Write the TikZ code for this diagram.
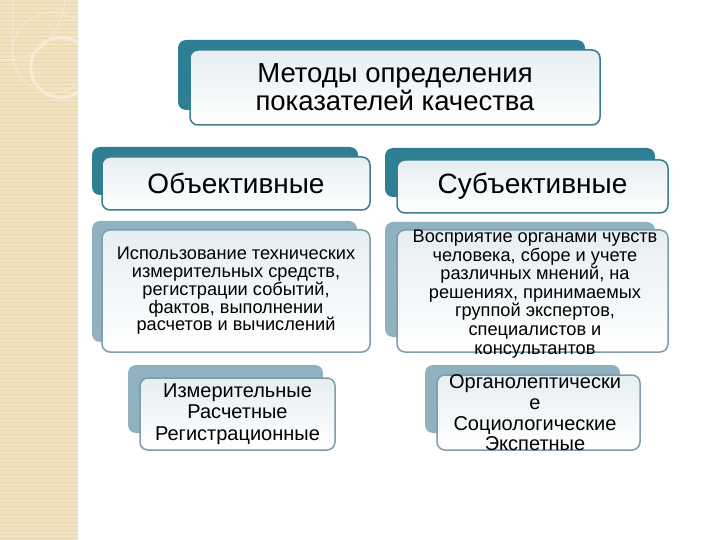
\documentclass[tikz,border=0pt]{standalone}
\usepackage{fontspec}
\setmainfont{Liberation Sans}
\usetikzlibrary{backgrounds}
\definecolor{darkteal}{HTML}{2E7E94}
\definecolor{lightback}{HTML}{8FB1C0}
\definecolor{tealedge}{HTML}{3B7C8E}
\definecolor{grayedge}{HTML}{7F9CA9}
\definecolor{frontfill}{HTML}{E6EEF2}
\definecolor{stripbg}{HTML}{F1E3C3}
\definecolor{stripline}{HTML}{E8D6AF}
\definecolor{decor}{HTML}{F6ECD6}
\definecolor{connline}{HTML}{3E8698}
\tikzset{
  backbox/.style={rounded corners=8pt, inner sep=0pt},
  frontbox/.style={rounded corners=8pt, inner sep=0pt, line width=1.5pt,
     top color=frontfill, bottom color=white, align=center},
  conn/.style={draw=connline, line width=1.5pt}
}
\begin{document}
\begin{tikzpicture}[x=1pt,y=-1pt]
\useasboundingbox (0,0) rectangle (720,540);
\fill[white] (0,0) rectangle (720,540);
% left decorative strip
\fill[stripbg] (0,0) rectangle (78,540);
\foreach \yy in {2,6,...,538} {\draw[stripline, line width=0.6pt] (0,\yy) -- (78,\yy);}
\draw[decor, line width=1pt] (0,60) -- (12,60) -- (12,0);
\draw[decor, line width=1pt] (12,60) .. controls (45,55) and (62,30) .. (65,0);
\draw[decor, line width=3pt] (78,92) arc[start angle=55, end angle=305, radius=30];
\draw[decor, line width=0.8pt] (78,83) arc[start angle=50, end angle=310, radius=40];

% back boxes
\node[backbox, fill=darkteal, minimum width=407pt, minimum height=70pt] (topback) at (381.5,75) {};
\node[backbox, fill=darkteal, minimum width=266pt, minimum height=48pt] (objback) at (225,171) {};
\node[backbox, fill=darkteal, minimum width=270pt, minimum height=49pt] (subback) at (520,172.5) {};
\node[backbox, fill=lightback, minimum width=265pt, minimum height=121pt] (odetback) at (224.5,281.5) {};
\node[backbox, fill=lightback, minimum width=270pt, minimum height=115pt] (sdetback) at (520,279.5) {};
\node[backbox, fill=lightback, minimum width=195pt, minimum height=68pt] (otypback) at (225.5,399) {};
\node[backbox, fill=lightback, minimum width=195pt, minimum height=68pt] (stypback) at (522.5,399) {};

% front boxes
\node[frontbox, draw=tealedge, minimum width=410pt, minimum height=75pt, font=\fontsize{27.5}{28}\selectfont] (top) at (395,87.5)
  {Методы определения\\показателей качества};
\node[frontbox, draw=tealedge, minimum width=268pt, minimum height=53pt, font=\fontsize{28}{28}\selectfont] (obj) at (236,183.5)
  {Объективные};
\node[frontbox, draw=tealedge, minimum width=271pt, minimum height=53pt, font=\fontsize{28}{28}\selectfont] (sub) at (532.5,186.5)
  {Субъективные};
\node[frontbox, draw=grayedge, minimum width=268pt, minimum height=122pt, font=\fontsize{18.2}{17.8}\selectfont] (odet) at (236,291)
  {Использование технических\\измерительных средств,\\регистрации событий,\\фактов, выполнении\\расчетов и вычислений};
\node[frontbox, draw=grayedge, minimum width=271pt, minimum height=122pt] (sdet) at (532.5,291)
  {};
\node[align=center, inner sep=0pt, font=\fontsize{18.2}{18.6}\selectfont] (sdettext) at (535,294)
  {Восприятие органами чувств\\человека, сборе и учете\\различных мнений, на\\решениях, принимаемых\\группой экспертов,\\специалистов и\\консультантов};
\node[frontbox, draw=grayedge, minimum width=195pt, minimum height=72pt, font=\fontsize{20}{21.5}\selectfont] (otyp) at (237.5,414)
  {Измерительные\\Расчетные\\Регистрационные};
\node[frontbox, draw=grayedge, minimum width=203pt, minimum height=75pt] (styp) at (538.5,412.5) {};
\node[align=center, inner sep=0pt, font=\fontsize{20}{20.7}\selectfont] (styptext) at (535,413)
  {Органолептически\\е\\Социологические\\Экспетные};

% connectors
\begin{scope}[on background layer]
\draw[conn] (topback.center) -- ([yshift=58pt]topback.center) coordinate (junc);
\draw[conn] (objback.center) |- (junc) -| (subback.center);
\draw[conn] (objback.center) -- (odetback.center);
\draw[conn] (subback.center) -- (sdetback.center);
\draw[conn] (odetback.center) -- (otypback.center);
\draw[conn] (sdetback.center) -- (stypback.center);
\end{scope}
\end{tikzpicture}
\end{document}
